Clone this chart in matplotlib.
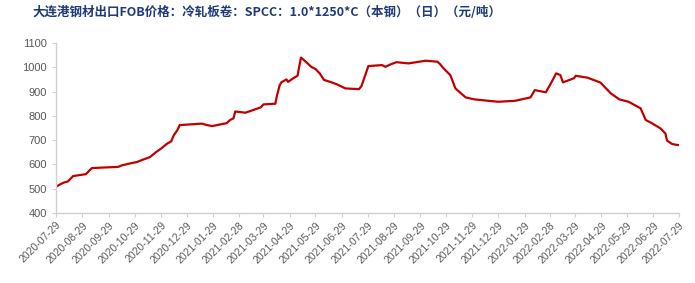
import matplotlib
matplotlib.use("Agg")
import matplotlib.pyplot as plt
import pandas as pd

plt.rcParams['font.family'] = ['Liberation Sans', 'DejaVu Sans']

title = "大连港钢材出口FOB价格：冷轧板卷：SPCC：1.0*1250*C（本钢）（日）（元/吨）"

dates = [
    "2020-07-29", "2020-08-04", "2020-08-07", "2020-08-12", "2020-08-18", "2020-09-02",
    "2020-09-09", "2020-10-10", "2020-10-14", "2020-10-25", "2020-11-01", "2020-11-08",
    "2020-11-16", "2020-11-23", "2020-11-29", "2020-12-06", "2020-12-11", "2020-12-14",
    "2020-12-18", "2020-12-21", "2021-01-16", "2021-01-22", "2021-01-28", "2021-02-14",
    "2021-02-18", "2021-02-22", "2021-02-24", "2021-03-08", "2021-03-26", "2021-03-29",
    "2021-04-12", "2021-04-14", "2021-04-17", "2021-04-19", "2021-04-25", "2021-04-27",
    "2021-05-03", "2021-05-08", "2021-05-12", "2021-05-19", "2021-05-24", "2021-05-29",
    "2021-06-03", "2021-06-08", "2021-06-17", "2021-06-23", "2021-06-29", "2021-07-03",
    "2021-07-19", "2021-07-22", "2021-07-30", "2021-08-15", "2021-08-19", "2021-08-25",
    "2021-09-01", "2021-09-15", "2021-10-05", "2021-10-19", "2021-10-22", "2021-10-26",
    "2021-11-03", "2021-11-09", "2021-11-21", "2021-12-01", "2021-12-29", "2022-01-18",
    "2022-02-05", "2022-02-10", "2022-02-23", "2022-03-02", "2022-03-07", "2022-03-12",
    "2022-03-15", "2022-03-28", "2022-03-30", "2022-04-13", "2022-04-28", "2022-05-10",
    "2022-05-20", "2022-05-31", "2022-06-14", "2022-06-20", "2022-06-26", "2022-07-07",
    "2022-07-13", "2022-07-15", "2022-07-21", "2022-07-27", "2022-07-29",
]
prices = [
    508, 520, 525, 530, 552, 560,
    585, 590, 596, 605, 610, 620,
    630, 650, 665, 685, 695, 720,
    740, 762, 768, 762, 758, 770,
    783, 790, 818, 813, 835, 847,
    850, 885, 925, 938, 950, 940,
    955, 965, 1040, 1019, 1002, 993,
    975, 948, 938, 930, 920, 913,
    910, 923, 1005, 1009, 1002, 1012,
    1021, 1016, 1027, 1023, 1013, 996,
    968, 913, 876, 868, 858, 862,
    876, 906, 897, 941, 975, 968,
    938, 955, 965, 957, 937, 893,
    868, 858, 831, 783, 772, 749,
    728, 698, 684, 680, 680,
]

tick_labels = [
    "2020-07-29", "2020-08-29", "2020-09-29", "2020-10-29", "2020-11-29", "2020-12-29",
    "2021-01-29", "2021-02-28", "2021-03-29", "2021-04-29", "2021-05-29", "2021-06-29",
    "2021-07-29", "2021-08-29", "2021-09-29", "2021-10-29", "2021-11-29", "2021-12-29",
    "2022-01-29", "2022-02-28", "2022-03-29", "2022-04-29", "2022-05-29", "2022-06-29",
    "2022-07-29",
]
y_ticks = [400, 500, 600, 700, 800, 900, 1000, 1100]

x = pd.to_datetime(dates)
xt = pd.to_datetime(tick_labels)

fig = plt.figure(figsize=(6.95, 2.83), dpi=100)
ax = fig.add_axes([56/695, 1-213/283, (679-56)/695, (213-43)/283])

ax.plot(x, prices, color="#C00000", linewidth=1.6, solid_joinstyle="round")

ax.set_xlim(xt[0], xt[-1])
ax.set_ylim(400, 1100)
ax.set_yticks(y_ticks)
ax.set_xticks(xt)
ax.set_xticklabels(tick_labels, rotation=45, ha="right", rotation_mode="anchor",
                   fontsize=7.5, color="#595959")
ax.tick_params(axis="y", labelsize=8, colors="#595959", length=3, color="#D0D0D0")
ax.tick_params(axis="x", length=3, color="#D0D0D0", pad=2)
for lab in ax.get_yticklabels():
    lab.set_color("#595959")

for s in ["top", "right"]:
    ax.spines[s].set_visible(False)
for s in ["left", "bottom"]:
    ax.spines[s].set_color("#D0D0D0")
    ax.spines[s].set_linewidth(1.0)

fig.text(32/695, 1-12/283, title, fontsize=9.0, fontweight="bold", color="#1F3A78",
         va="center", ha="left", family=["Noto Sans CJK SC", "DejaVu Sans"])

fig.savefig("out.png", dpi=100)
